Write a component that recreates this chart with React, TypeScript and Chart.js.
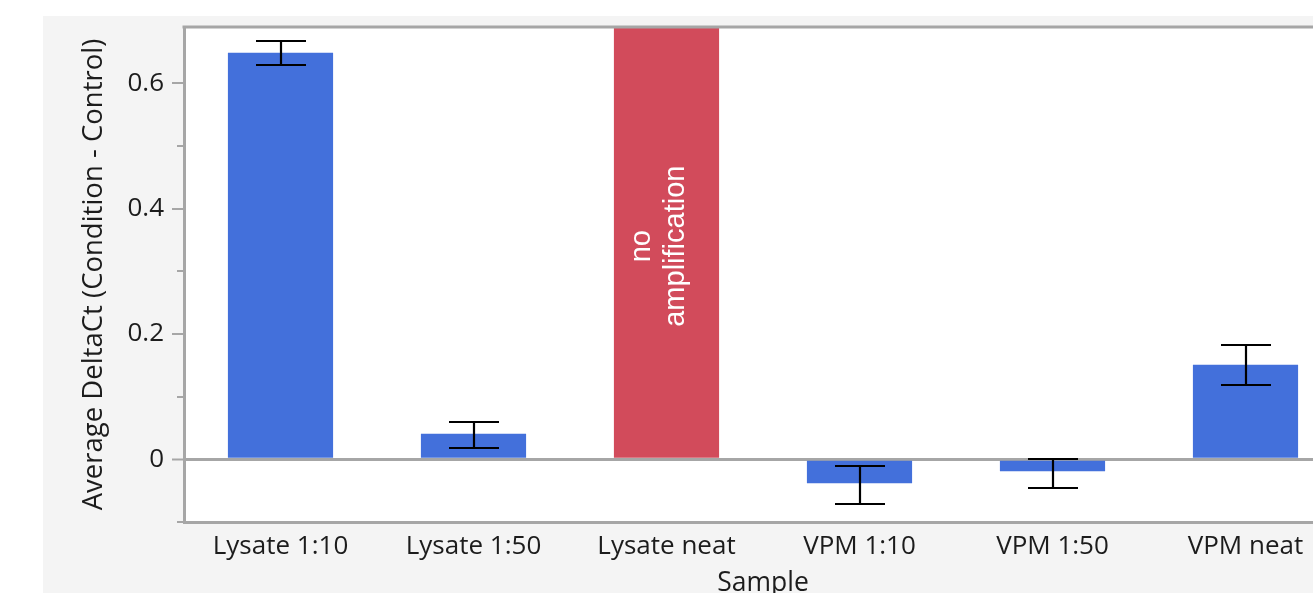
import React, { useEffect, useRef } from "react";
import { Chart, registerables } from "chart.js";

Chart.register(...registerables);

const categories = ["Lysate 1:10", "Lysate 1:50", "Lysate neat", "VPM 1:10", "VPM 1:50", "VPM neat"];
const meanValues = [0.649, 0.041, 0.69, -0.038, -0.019, 0.151];
const errUpper: (number | null)[] = [0.667, 0.059, null, -0.011, 0.0, 0.183];
const errLower: (number | null)[] = [0.630, 0.018, null, -0.072, -0.045, 0.118];
const noAmplification = [false, false, true, false, false, false];
const majorTicks = [0, 0.2, 0.4, 0.6];
const minorTicks = [-0.1, 0.1, 0.3, 0.5];
const yMin = -0.1;
const yMax = 0.69;

const BLUE = "#4370db";
const RED = "#d24b5b";
const AXIS_GRAY = "#a6a6a6";
const TEXT = "#1c1c1c";
const FONT = "'Open Sans', 'Noto Sans', sans-serif";

const CANVAS_W = 1320;
const CANVAS_H = 620;

const decorPlugin = {
  id: "decor",
  beforeDraw(chart: any) {
    const { ctx, chartArea } = chart;
    ctx.save();
    ctx.fillStyle = "#ffffff";
    ctx.fillRect(chartArea.left, chartArea.top, chartArea.right - chartArea.left, chartArea.bottom - chartArea.top);
    ctx.restore();
  },
  afterDraw(chart: any) {
    const { ctx, chartArea, scales } = chart;
    const y = scales.y;
    const x = scales.x;
    ctx.save();
    // top border
    ctx.strokeStyle = AXIS_GRAY;
    ctx.lineWidth = 3;
    ctx.beginPath();
    ctx.moveTo(chartArea.left - 1.5, chartArea.top);
    ctx.lineTo(chartArea.right, chartArea.top);
    ctx.stroke();
    // minor ticks
    ctx.lineWidth = 2;
    minorTicks.forEach((v) => {
      const py = Math.round(y.getPixelForValue(v));
      ctx.beginPath();
      ctx.moveTo(chartArea.left - 7, py);
      ctx.lineTo(chartArea.left, py);
      ctx.stroke();
    });
    // error bars
    ctx.strokeStyle = "#000000";
    ctx.lineWidth = 2.2;
    const cap = 25;
    categories.forEach((_, i) => {
      const hi = errUpper[i];
      const lo = errLower[i];
      if (hi === null || lo === null) return;
      const px = Math.round(x.getPixelForValue(i));
      const yHi = Math.round(y.getPixelForValue(hi));
      const yLo = Math.round(y.getPixelForValue(lo));
      ctx.beginPath();
      ctx.moveTo(px, yHi);
      ctx.lineTo(px, yLo);
      ctx.moveTo(px - cap, yHi);
      ctx.lineTo(px + cap, yHi);
      ctx.moveTo(px - cap, yLo);
      ctx.lineTo(px + cap, yLo);
      ctx.stroke();
    });
    // no amplification labels
    ctx.fillStyle = "#ffffff";
    ctx.font = "29px 'Liberation Sans', Arial, sans-serif";
    ctx.textAlign = "center";
    ctx.textBaseline = "alphabetic";
    categories.forEach((_, i) => {
      if (!noAmplification[i]) return;
      const px = x.getPixelForValue(i);
      const cy = (y.getPixelForValue(0) + chartArea.top) / 2 + 3;
      ctx.save();
      ctx.translate(px, cy);
      ctx.rotate(-Math.PI / 2);
      ctx.fillText("no", 0, -17);
      ctx.fillText("amplification", 0, 17);
      ctx.restore();
    });
    ctx.restore();
  },
};

export default function App() {
  const canvasRef = useRef<HTMLCanvasElement | null>(null);

  useEffect(() => {
    const canvas = canvasRef.current;
    if (!canvas) return;
    const chart = new Chart(canvas, {
      type: "bar",
      data: {
        labels: categories,
        datasets: [
          {
            label: "Average DeltaCt",
            data: meanValues,
            backgroundColor: noAmplification.map((n) => (n ? RED : BLUE)),
            borderWidth: 0,
            categoryPercentage: 1,
            barPercentage: 0.545,
          },
        ],
      },
      options: {
        responsive: false,
        animation: false,
        devicePixelRatio: 1,
        layout: { padding: { left: 0, top: 11, right: 21, bottom: 0 } },
        plugins: {
          legend: { display: false },
          tooltip: { enabled: false },
        },
        scales: {
          x: {
            type: "category",
            offset: true,
            grid: { display: false, drawTicks: false },
            border: { display: true, color: AXIS_GRAY, width: 3 },
            ticks: {
              color: TEXT,
              font: { family: FONT, size: 26 },
              padding: 9,
              maxRotation: 0,
              autoSkip: false,
            },
            title: {
              display: true,
              text: "Sample",
              color: TEXT,
              font: { family: FONT, size: 26.5 },
              padding: { top: 0, bottom: 37 },
            },
            afterFit(scale: any) {
              scale.height = CANVAS_H - 506;
              scale.paddingLeft = 0;
              scale.paddingRight = 0;
            },
          },
          y: {
            min: yMin,
            max: yMax,
            afterBuildTicks(scale: any) {
              scale.ticks = majorTicks.map((v) => ({ value: v }));
            },
            ticks: {
              color: TEXT,
              font: { family: FONT, size: 26 },
              padding: 8,
              callback: (v: any) => String(v),
            },
            grid: {
              drawOnChartArea: true,
              color: (c: any) => (c.tick && c.tick.value === 0 ? AXIS_GRAY : "rgba(0,0,0,0)"),
              lineWidth: (c: any) => (c.tick && c.tick.value === 0 ? 3 : 0),
              tickColor: AXIS_GRAY,
              tickWidth: 2,
              tickLength: 12,
            },
            border: { display: true, color: AXIS_GRAY, width: 3 },
            title: {
              display: true,
              text: "Average DeltaCt (Condition - Control)",
              color: TEXT,
              font: { family: FONT, size: 27.5 },
              padding: { top: 35, bottom: 0 },
            },
            afterFit(scale: any) {
              scale.width = 141;
              scale.paddingTop = 0;
              scale.paddingBottom = 0;
            },
          },
        },
      },
      plugins: [decorPlugin],
    });
    return () => chart.destroy();
  }, []);

  return (
    <div style={{ position: "fixed", left: 0, top: 0, width: 1313, height: 593, overflow: "hidden", background: "#ffffff" }}>
      <div style={{ position: "absolute", left: 43, top: 16, width: CANVAS_W, height: CANVAS_H, background: "#f4f4f4" }}>
        <canvas ref={canvasRef} width={CANVAS_W} height={CANVAS_H} style={{ width: CANVAS_W, height: CANVAS_H, display: "block" }} />
      </div>
    </div>
  );
}
